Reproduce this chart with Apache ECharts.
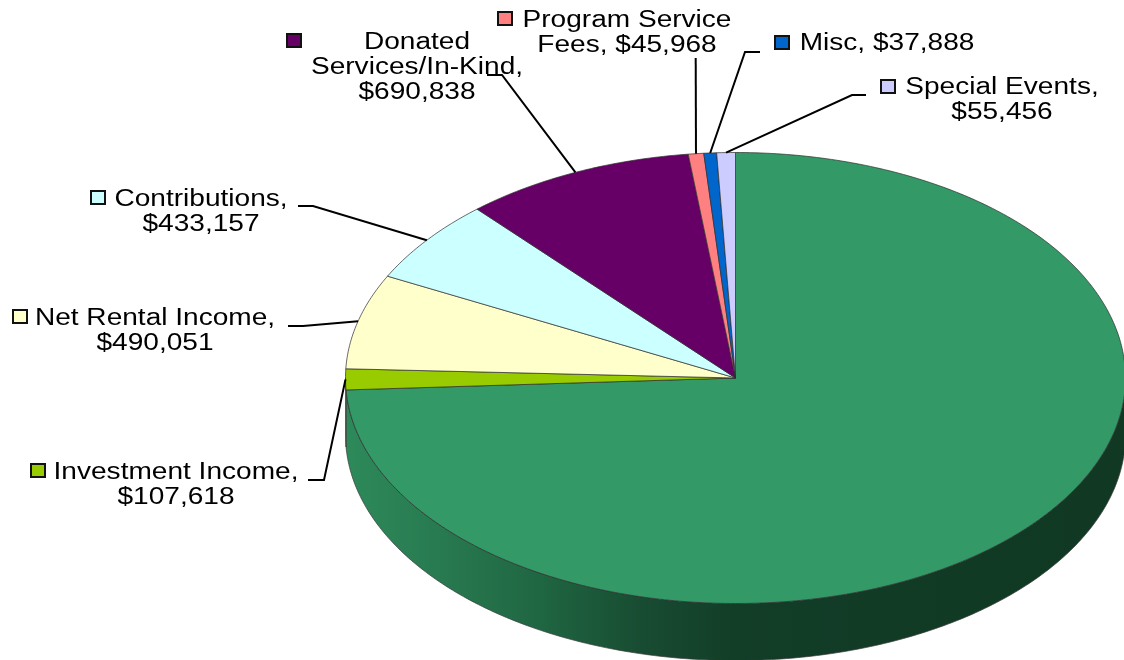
<!DOCTYPE html>
<html>
<head>
<meta charset="utf-8">
<style>html,body{margin:0;padding:0;background:#fff}#c{width:1124px;height:660px}</style>
<script src="https://cdn.jsdelivr.net/npm/echarts@6/dist/echarts.min.js"></script>
</head>
<body>
<div id="c"></div>
<script>
// Data, clockwise from 12 o'clock. The large slice carries no label in the picture; its value is estimated from its angle.
const categories = ['Unlabeled', 'Investment Income', 'Net Rental Income', 'Contributions', 'Donated Services/In-Kind', 'Program Service Fees', 'Misc', 'Special Events'];
const values = [5340000, 107618, 490051, 433157, 690838, 45968, 37888, 55456];
const colors = ['#339966', '#99CC00', '#FFFFCC', '#CCFFFF', '#660066', '#FF8080', '#0066CC', '#CCCCFF'];
const labelLines = [null, ['Investment Income,', '$107,618'], ['Net Rental Income,', '$490,051'], ['Contributions,', '$433,157'], ['Donated', 'Services/In-Kind,', '$690,838'], ['Program Service', 'Fees, $45,968'], ['Misc, $37,888'], ['Special Events,', '$55,456']];

// Layout (pixels)
const CX = 735.5, CY = 378, RX = 390, RY = 225.5, DEPTH = 57;
const labelAt = [null, [176, 485.5], [155, 331.5], [201, 212], [417, 68], [627, 33.5], [887, 44], [1002, 100.5]];
const swatchAt = [null, [31, 464], [13, 310], [91, 191], [287, 34], [498, 12], [775, 36], [881, 80]];
const elbows = [null, [[324, 480], [308, 480]], [[303, 326], [288, 326]], [[313, 206], [298, 206]], [[502, 75], [487, 75]], [[695.7, 58]], [[745, 52], [760, 52]], [[852, 95], [866, 95]]];
const FONT = '23px "Liberation Sans", Arial, sans-serif';
const STRETCH = 1.22;

const total = values.reduce((a, b) => a + b, 0);
const pt = (deg, dy) => {
  const r = deg * Math.PI / 180;
  return [CX + RX * Math.sin(r), CY - RY * Math.cos(r) + (dy || 0)];
};
const arc = (a, b, dy) => {
  const out = [];
  const n = Math.max(2, Math.ceil((b - a) / 0.75));
  for (let i = 0; i <= n; i++) out.push(pt(a + (b - a) * i / n, dy));
  return out;
};
const wallFill = new echarts.graphic.LinearGradient(CX - RX, 0, CX + RX, 0, [
  { offset: 0, color: '#2D8A5A' },
  { offset: 0.12, color: '#287A50' },
  { offset: 0.25, color: '#1F6642' },
  { offset: 0.38, color: '#184C32' },
  { offset: 0.5, color: '#123D27' },
  { offset: 1, color: '#103823' }
], true);

function renderItem(params, api) {
  const i = params.dataIndex;
  const v = api.value(0);
  let start = 0;
  for (let k = 0; k < i; k++) start += values[k];
  const a0 = start / total * 360, a1 = a0 + v / total * 360;
  const children = [];

  // side wall: only the part of the rim facing the viewer (90..270 degrees)
  const w0 = Math.max(a0, 90), w1 = Math.min(a1, 270);
  if (w1 > w0) {
    const top = arc(w0, w1, 0), bottom = arc(w0, w1, DEPTH).reverse();
    children.push({
      type: 'polygon',
      shape: { points: top.concat(bottom) },
      style: { fill: i === 0 ? wallFill : echarts.color.lift(colors[i], -0.5), stroke: '#3a3a3a', lineWidth: 0.7 }
    });
  }
  // top face
  children.push({
    type: 'polygon',
    shape: { points: [[CX, CY]].concat(arc(a0, a1, 0)) },
    style: { fill: colors[i], stroke: '#2c2c2c', lineWidth: 0.7 }
  });
  return { type: 'group', children };
}

function renderLabel(params, api) {
  const i = params.dataIndex;
  if (!labelLines[i]) return { type: 'group', children: [] };
  let start = 0;
  for (let k = 0; k < i; k++) start += values[k];
  const mid = (start + values[i] / 2) / total * 360;
  const children = [];
  children.push({
    type: 'polyline',
    shape: { points: [pt(mid, 0)].concat(elbows[i]) },
    style: { fill: null, stroke: '#000', lineWidth: 2 }
  });
  children.push({
    type: 'rect',
    shape: { x: swatchAt[i][0], y: swatchAt[i][1], width: 14, height: 13 },
    style: { fill: colors[i], stroke: '#111', lineWidth: 2 }
  });
  children.push({
    type: 'text',
    x: labelAt[i][0],
    y: labelAt[i][1],
    scaleX: STRETCH,
    style: {
      text: labelLines[i].join('\n'),
      font: FONT,
      fill: '#000',
      align: 'center',
      verticalAlign: 'middle',
      lineHeight: 25
    }
  });
  return { type: 'group', children };
}

const chart = echarts.init(document.getElementById('c'), null, { renderer: 'canvas' });
chart.setOption({
  animation: false,
  backgroundColor: '#fff',
  series: [
    { type: 'custom', coordinateSystem: 'none', silent: true, z: 2, renderItem, data: values.map((v, i) => ({ name: categories[i], value: [v] })) },
    { type: 'custom', coordinateSystem: 'none', silent: true, z: 3, renderItem: renderLabel, data: values.map((v, i) => ({ name: categories[i], value: [v] })) }
  ]
});
</script>
</body>
</html>
